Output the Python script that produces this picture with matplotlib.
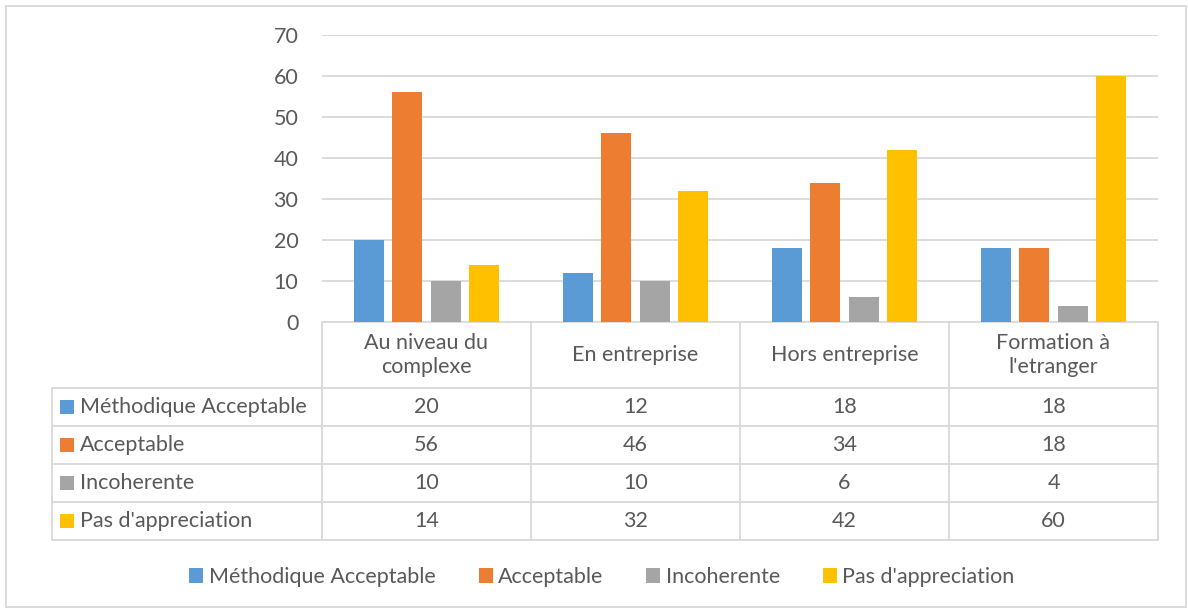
import numpy as np
import matplotlib
matplotlib.use("Agg")
import matplotlib.pyplot as plt
from matplotlib.patches import Rectangle

# categories and series
categories = ["Au niveau du\ncomplexe", "En entreprise", "Hors entreprise", "Formation à\nl'etranger"]
series = ["Méthodique Acceptable", "Acceptable", "Incoherente", "Pas d'appreciation"]
methodique = [20, 12, 18, 18]
acceptable = [56, 46, 34, 18]
incoherente = [10, 10, 6, 4]
pas_appreciation = [14, 32, 42, 60]
yticks = [0, 10, 20, 30, 40, 50, 60, 70]

values = [methodique, acceptable, incoherente, pas_appreciation]
colors = ["#5B9BD5", "#ED7D31", "#A5A5A5", "#FFC000"]
grid_c = "#D9D9D9"
text_c = "#595959"
fs = 15.5

plt.rcParams['font.family'] = ['Lato', 'DejaVu Sans']

W, H = 1188, 612
fig = plt.figure(figsize=(W / 100, H / 100), dpi=100)

# pixel helpers
def fx(px):
    return px / W

def fy(py):
    return 1 - py / H

# plot area
x0, x1, ytop, ybot = 322, 1158, 35, 322
ax = fig.add_axes([fx(x0), fy(ybot), fx(x1 - x0), (ybot - ytop) / H])
n = len(categories)
x = np.arange(n)
step = 0.182
width = 0.1435
for i, (vals, col) in enumerate(zip(values, colors)):
    ax.bar(x + (i - 1.5) * step, vals, width, color=col, label=series[i], zorder=3)
ax.set_xlim(-0.5, n - 0.5)
ax.set_ylim(0, 70)
ax.set_yticks(yticks)
ax.tick_params(axis='y', length=0, labelsize=fs, labelcolor=text_c, pad=17)
ax.set_xticks([])
ax.grid(axis='y', color=grid_c, lw=1.3, zorder=0)
for s in ax.spines.values():
    s.set_visible(False)

# overlay in pixel coordinates for the data table and border
ov = fig.add_axes([0, 0, 1, 1], zorder=-1)
ov.set_xlim(0, W)
ov.set_ylim(H, 0)
ov.axis('off')
ov.add_patch(Rectangle((6, 6), 1180, 601, fill=False, ec=grid_c, lw=1.3))

col_x = np.linspace(x0, x1, n + 1)
row_y = [388, 426, 464, 502, 540]
lw = 1.3
# header cell lines
ov.plot([x0, x1], [ybot, ybot], color=grid_c, lw=lw)
for cx in col_x:
    ov.plot([cx, cx], [ybot, row_y[-1]], color=grid_c, lw=lw)
ov.plot([52, 52], [row_y[0], row_y[-1]], color=grid_c, lw=lw)
for ry in row_y:
    ov.plot([52, x1], [ry, ry], color=grid_c, lw=lw)

# header labels
for j, cat in enumerate(categories):
    ov.text((col_x[j] + col_x[j + 1]) / 2, (ybot + row_y[0]) / 2, cat,
            ha='center', va='center', fontsize=fs, color=text_c, linespacing=1.2)

# rows
for i, name in enumerate(series):
    yc = (row_y[i] + row_y[i + 1]) / 2
    ov.add_patch(Rectangle((60, yc - 7), 14, 14, color=colors[i], lw=0))
    ov.text(80, yc, name, ha='left', va='center', fontsize=fs, color=text_c)
    for j in range(n):
        ov.text((col_x[j] + col_x[j + 1]) / 2, yc, str(values[i][j]),
                ha='center', va='center', fontsize=fs, color=text_c)

# legend
fig.legend(loc='center', bbox_to_anchor=(fx(602), fy(577)), ncol=4, frameon=False,
           fontsize=fs, labelcolor=text_c, handlelength=0.65, handleheight=0.65,
           handletextpad=0.25, columnspacing=2.0)

fig.savefig("out.png", dpi=100)
